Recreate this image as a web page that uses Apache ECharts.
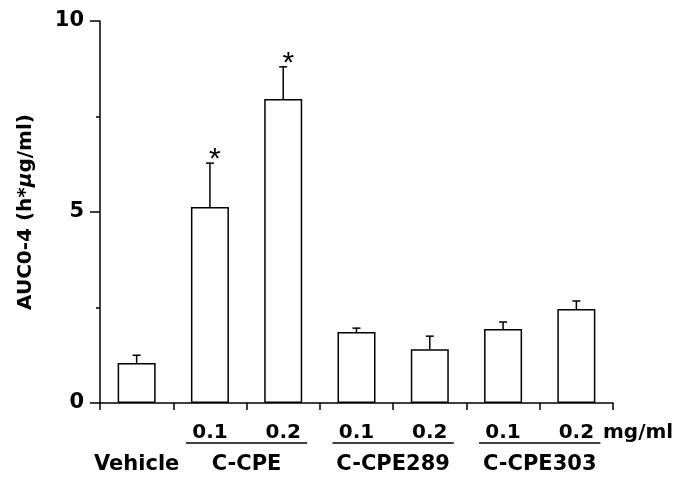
<!DOCTYPE html>
<html>
<head>
<meta charset="utf-8">
<script src="https://cdn.jsdelivr.net/npm/echarts@6/dist/echarts.min.js"></script>
<style>
  html, body { margin: 0; padding: 0; background: #fff; }
  #chart { width: 699px; height: 478px; }
</style>
</head>
<body>
<div id="chart"></div>
<script>
// bars: vehicle, then two doses per compound
const categories = ['Vehicle', 'C-CPE 0.1', 'C-CPE 0.2', 'C-CPE289 0.1', 'C-CPE289 0.2', 'C-CPE303 0.1', 'C-CPE303 0.2'];
const doseLabels = ['', '0.1', '0.2', '0.1', '0.2', '0.1', '0.2'];
const auc = [1.05, 5.13, 7.96, 1.86, 1.41, 1.94, 2.46];
const errUp = [0.2, 1.15, 0.84, 0.1, 0.34, 0.18, 0.21];
const marks = ['', '*', '*', '', '', '', ''];

// group captions under the axis
const groupNames = ['Vehicle', 'C-CPE', 'C-CPE289', 'C-CPE303'];
const groupFirst = [0, 1, 3, 5];
const groupLast = [0, 2, 4, 6];

const yTicks = [0, 5, 10];

const FONT = 'DejaVu Sans';
const chart = echarts.init(document.getElementById('chart'), null, { renderer: 'canvas' });

const errData = auc.map((v, i) => [i, v, errUp[i]]);
const groupData = groupNames.map((n, i) => [groupFirst[i], 0, groupLast[i]]);

const option = {
  animation: false,
  grid: { left: 100, right: 86, top: 21, bottom: 75 },
  xAxis: {
    type: 'category',
    data: categories,
    name: 'mg/ml',
    nameLocation: 'end',
    nameGap: -10,
    nameTextStyle: {
      color: '#000', fontFamily: FONT, fontWeight: 'bold', fontSize: 20,
      verticalAlign: 'top', align: 'left', padding: [20, 0, 0, 0]
    },
    axisLine: { lineStyle: { color: '#000', width: 1.5 } },
    axisTick: { show: true, alignWithLabel: false, length: 7, lineStyle: { color: '#000', width: 1.5 } },
    axisLabel: {
      margin: 20, color: '#000', fontFamily: FONT, fontWeight: 'bold', fontSize: 20,
      formatter: (v, i) => doseLabels[i]
    }
  },
  yAxis: {
    type: 'value',
    min: 0,
    max: 10,
    interval: 5,
    name: 'AUC0-4 (h*{it|μ}g/ml)',
    nameLocation: 'middle',
    nameGap: 64,
    nameRotate: 90,
    nameTextStyle: {
      color: '#000', fontFamily: FONT, fontWeight: 'bold', fontSize: 20,
      rich: { it: { fontFamily: FONT, fontWeight: 'bold', fontStyle: 'italic', fontSize: 20, color: '#000' } }
    },
    splitLine: { show: false },
    axisLine: { show: true, lineStyle: { color: '#000', width: 1.5 } },
    axisTick: { show: true, length: 10, lineStyle: { color: '#000', width: 1.5 } },
    minorTick: { show: true, splitNumber: 2, length: 4, lineStyle: { color: '#000', width: 1.5 } },
    axisLabel: {
      margin: 16, color: '#000', fontFamily: FONT, fontWeight: 'bold', fontSize: 21,
      formatter: v => (yTicks.indexOf(v) >= 0 ? String(v) : '')
    }
  },
  series: [
    {
      type: 'bar',
      data: auc,
      barWidth: 38,
      itemStyle: { color: '#fff', borderColor: '#000', borderWidth: 1.5 }
    },
    {
      type: 'custom',
      data: errData,
      encode: { x: 0, y: 1 },
      z: 3,
      clip: false,
      renderItem: function (params, api) {
        const i = api.value(0);
        const v = api.value(1);
        const e = api.value(2);
        const p0 = api.coord([i, v]);
        const p1 = api.coord([i, v + e]);
        const style = { stroke: '#000', lineWidth: 1.5 };
        const children = [
          { type: 'line', shape: { x1: p0[0], y1: p0[1], x2: p1[0], y2: p1[1] }, style: style },
          { type: 'line', shape: { x1: p1[0] - 4, y1: p1[1], x2: p1[0] + 4, y2: p1[1] }, style: style }
        ];
        if (marks[i]) {
          children.push({
            type: 'text',
            style: {
              text: marks[i], x: p1[0] + 5, y: p1[1] + 12,
              fontFamily: 'Liberation Sans', fontSize: 30, fill: '#000',
              align: 'center', verticalAlign: 'bottom'
            }
          });
        }
        return { type: 'group', children: children };
      }
    },
    {
      type: 'custom',
      data: groupData,
      encode: { x: 0, y: 1 },
      clip: false,
      silent: true,
      renderItem: function (params, api) {
        const a = api.coord([api.value(0), 0]);
        const b = api.coord([api.value(2), 0]);
        const cx = (a[0] + b[0]) / 2;
        const children = [{
          type: 'text',
          style: {
            text: groupNames[params.dataIndex], x: cx, y: a[1] + 62,
            fontFamily: FONT, fontWeight: 'bold', fontSize: 21, fill: '#000',
            align: 'center', verticalAlign: 'middle'
          }
        }];
        if (api.value(2) > api.value(0)) {
          children.push({
            type: 'line',
            shape: { x1: a[0] - 24, y1: a[1] + 40, x2: b[0] + 24, y2: a[1] + 40 },
            style: { stroke: '#000', lineWidth: 1.5 }
          });
        }
        return { type: 'group', children: children };
      }
    }
  ]
};

chart.setOption(option);
</script>
</body>
</html>
